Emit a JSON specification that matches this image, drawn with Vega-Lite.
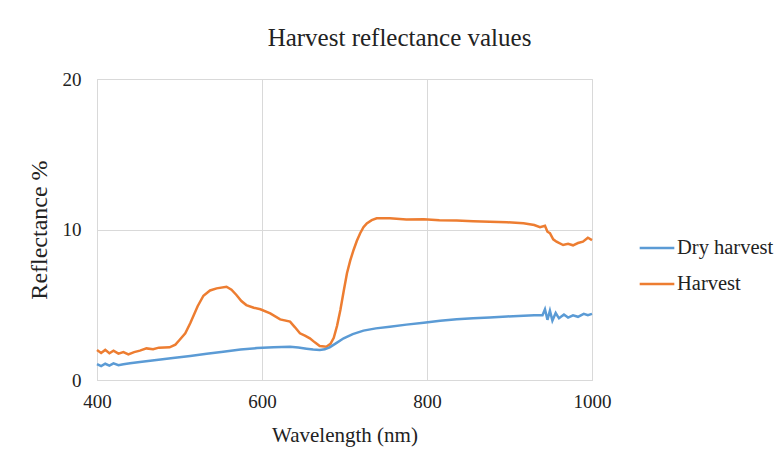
{
  "$schema": "https://vega.github.io/schema/vega-lite/v6.json",
  "width": 495,
  "height": 301,
  "autosize": {"type": "none"},
  "padding": {"left": 97, "top": 79, "right": 188, "bottom": 87},
  "background": "white",
  "title": {"text": "Harvest reflectance values", "font": "Liberation Serif", "fontSize": 25, "fontWeight": "normal", "color": "#222222", "offset": 19, "anchor": "middle", "dx": 55},
  "config": {
    "view": {"stroke": "#d9d9d9", "strokeWidth": 1},
    "axis": {"labelFont": "Liberation Serif", "titleFont": "Liberation Serif", "labelFontSize": 19, "titleFontSize": 21, "titleFontWeight": "normal", "labelColor": "#222222", "titleColor": "#222222", "gridColor": "#d9d9d9", "domainColor": "#d9d9d9", "ticks": false}
  },
  "data": {"values": [
    {"w": 400, "r": 1.99, "s": "Harvest"},
    {"w": 405, "r": 1.8, "s": "Harvest"},
    {"w": 410, "r": 2.0, "s": "Harvest"},
    {"w": 415, "r": 1.78, "s": "Harvest"},
    {"w": 420, "r": 1.95, "s": "Harvest"},
    {"w": 426, "r": 1.75, "s": "Harvest"},
    {"w": 432, "r": 1.85, "s": "Harvest"},
    {"w": 438, "r": 1.7, "s": "Harvest"},
    {"w": 445, "r": 1.85, "s": "Harvest"},
    {"w": 452, "r": 1.95, "s": "Harvest"},
    {"w": 460, "r": 2.1, "s": "Harvest"},
    {"w": 468, "r": 2.05, "s": "Harvest"},
    {"w": 475, "r": 2.15, "s": "Harvest"},
    {"w": 488, "r": 2.17, "s": "Harvest"},
    {"w": 495, "r": 2.35, "s": "Harvest"},
    {"w": 500, "r": 2.66, "s": "Harvest"},
    {"w": 507, "r": 3.1, "s": "Harvest"},
    {"w": 513, "r": 3.77, "s": "Harvest"},
    {"w": 522, "r": 4.9, "s": "Harvest"},
    {"w": 529, "r": 5.6, "s": "Harvest"},
    {"w": 537, "r": 5.95, "s": "Harvest"},
    {"w": 545, "r": 6.09, "s": "Harvest"},
    {"w": 557, "r": 6.2, "s": "Harvest"},
    {"w": 563, "r": 6.0, "s": "Harvest"},
    {"w": 569, "r": 5.65, "s": "Harvest"},
    {"w": 575, "r": 5.25, "s": "Harvest"},
    {"w": 581, "r": 4.98, "s": "Harvest"},
    {"w": 590, "r": 4.8, "s": "Harvest"},
    {"w": 598, "r": 4.7, "s": "Harvest"},
    {"w": 610, "r": 4.43, "s": "Harvest"},
    {"w": 622, "r": 4.03, "s": "Harvest"},
    {"w": 634, "r": 3.88, "s": "Harvest"},
    {"w": 640, "r": 3.5, "s": "Harvest"},
    {"w": 646, "r": 3.1, "s": "Harvest"},
    {"w": 652, "r": 2.95, "s": "Harvest"},
    {"w": 658, "r": 2.77, "s": "Harvest"},
    {"w": 664, "r": 2.5, "s": "Harvest"},
    {"w": 670, "r": 2.26, "s": "Harvest"},
    {"w": 678, "r": 2.21, "s": "Harvest"},
    {"w": 683, "r": 2.4, "s": "Harvest"},
    {"w": 687, "r": 2.8, "s": "Harvest"},
    {"w": 691, "r": 3.6, "s": "Harvest"},
    {"w": 695, "r": 4.65, "s": "Harvest"},
    {"w": 699, "r": 5.9, "s": "Harvest"},
    {"w": 703, "r": 7.09, "s": "Harvest"},
    {"w": 707, "r": 7.95, "s": "Harvest"},
    {"w": 711, "r": 8.64, "s": "Harvest"},
    {"w": 715, "r": 9.25, "s": "Harvest"},
    {"w": 719, "r": 9.75, "s": "Harvest"},
    {"w": 723, "r": 10.15, "s": "Harvest"},
    {"w": 727, "r": 10.41, "s": "Harvest"},
    {"w": 733, "r": 10.62, "s": "Harvest"},
    {"w": 739, "r": 10.74, "s": "Harvest"},
    {"w": 755, "r": 10.74, "s": "Harvest"},
    {"w": 775, "r": 10.66, "s": "Harvest"},
    {"w": 796, "r": 10.68, "s": "Harvest"},
    {"w": 815, "r": 10.62, "s": "Harvest"},
    {"w": 836, "r": 10.59, "s": "Harvest"},
    {"w": 856, "r": 10.55, "s": "Harvest"},
    {"w": 876, "r": 10.52, "s": "Harvest"},
    {"w": 897, "r": 10.48, "s": "Harvest"},
    {"w": 917, "r": 10.41, "s": "Harvest"},
    {"w": 930, "r": 10.3, "s": "Harvest"},
    {"w": 937, "r": 10.15, "s": "Harvest"},
    {"w": 943, "r": 10.25, "s": "Harvest"},
    {"w": 946, "r": 9.85, "s": "Harvest"},
    {"w": 949, "r": 9.75, "s": "Harvest"},
    {"w": 953, "r": 9.35, "s": "Harvest"},
    {"w": 957, "r": 9.19, "s": "Harvest"},
    {"w": 965, "r": 8.97, "s": "Harvest"},
    {"w": 971, "r": 9.05, "s": "Harvest"},
    {"w": 977, "r": 8.95, "s": "Harvest"},
    {"w": 983, "r": 9.1, "s": "Harvest"},
    {"w": 989, "r": 9.19, "s": "Harvest"},
    {"w": 995, "r": 9.45, "s": "Harvest"},
    {"w": 1000, "r": 9.3, "s": "Harvest"},
    {"w": 400, "r": 1.06, "s": "Dry harvest"},
    {"w": 405, "r": 0.92, "s": "Dry harvest"},
    {"w": 410, "r": 1.08, "s": "Dry harvest"},
    {"w": 415, "r": 0.95, "s": "Dry harvest"},
    {"w": 420, "r": 1.1, "s": "Dry harvest"},
    {"w": 426, "r": 0.98, "s": "Dry harvest"},
    {"w": 432, "r": 1.05, "s": "Dry harvest"},
    {"w": 440, "r": 1.12, "s": "Dry harvest"},
    {"w": 452, "r": 1.2, "s": "Dry harvest"},
    {"w": 472, "r": 1.33, "s": "Dry harvest"},
    {"w": 492, "r": 1.46, "s": "Dry harvest"},
    {"w": 513, "r": 1.6, "s": "Dry harvest"},
    {"w": 533, "r": 1.74, "s": "Dry harvest"},
    {"w": 553, "r": 1.88, "s": "Dry harvest"},
    {"w": 574, "r": 2.02, "s": "Dry harvest"},
    {"w": 594, "r": 2.12, "s": "Dry harvest"},
    {"w": 614, "r": 2.18, "s": "Dry harvest"},
    {"w": 634, "r": 2.21, "s": "Dry harvest"},
    {"w": 644, "r": 2.16, "s": "Dry harvest"},
    {"w": 654, "r": 2.08, "s": "Dry harvest"},
    {"w": 662, "r": 2.02, "s": "Dry harvest"},
    {"w": 670, "r": 1.99, "s": "Dry harvest"},
    {"w": 676, "r": 2.04, "s": "Dry harvest"},
    {"w": 682, "r": 2.17, "s": "Dry harvest"},
    {"w": 690, "r": 2.45, "s": "Dry harvest"},
    {"w": 699, "r": 2.77, "s": "Dry harvest"},
    {"w": 710, "r": 3.05, "s": "Dry harvest"},
    {"w": 723, "r": 3.28, "s": "Dry harvest"},
    {"w": 738, "r": 3.43, "s": "Dry harvest"},
    {"w": 755, "r": 3.54, "s": "Dry harvest"},
    {"w": 775, "r": 3.68, "s": "Dry harvest"},
    {"w": 796, "r": 3.81, "s": "Dry harvest"},
    {"w": 816, "r": 3.93, "s": "Dry harvest"},
    {"w": 836, "r": 4.03, "s": "Dry harvest"},
    {"w": 856, "r": 4.1, "s": "Dry harvest"},
    {"w": 876, "r": 4.16, "s": "Dry harvest"},
    {"w": 897, "r": 4.22, "s": "Dry harvest"},
    {"w": 917, "r": 4.27, "s": "Dry harvest"},
    {"w": 930, "r": 4.3, "s": "Dry harvest"},
    {"w": 940, "r": 4.3, "s": "Dry harvest"},
    {"w": 943, "r": 4.7, "s": "Dry harvest"},
    {"w": 946, "r": 4.0, "s": "Dry harvest"},
    {"w": 949, "r": 4.6, "s": "Dry harvest"},
    {"w": 952, "r": 3.95, "s": "Dry harvest"},
    {"w": 956, "r": 4.45, "s": "Dry harvest"},
    {"w": 960, "r": 4.1, "s": "Dry harvest"},
    {"w": 966, "r": 4.35, "s": "Dry harvest"},
    {"w": 971, "r": 4.15, "s": "Dry harvest"},
    {"w": 977, "r": 4.3, "s": "Dry harvest"},
    {"w": 983, "r": 4.2, "s": "Dry harvest"},
    {"w": 990, "r": 4.4, "s": "Dry harvest"},
    {"w": 995, "r": 4.3, "s": "Dry harvest"},
    {"w": 1000, "r": 4.39, "s": "Dry harvest"}
  ]},
  "mark": {"type": "line", "strokeWidth": 2.5},
  "encoding": {
    "x": {"field": "w", "type": "quantitative", "title": "Wavelength (nm)", "scale": {"domain": [400, 1000], "nice": false}, "axis": {"values": [400, 600, 800, 1000], "format": "d", "labelFont": "Liberation Serif", "labelFontSize": 19, "labelPadding": 12, "titlePadding": 13, "titleFontSize": 21, "labelFlush": false}},
    "y": {"field": "r", "type": "quantitative", "title": "Reflectance %", "scale": {"domain": [0, 20], "nice": false}, "axis": {"values": [0, 10, 20], "format": "d", "labelFont": "Liberation Serif", "labelFontSize": 19, "labelPadding": 16, "titlePadding": 11, "titleFontSize": 24}},
    "color": {"field": "s", "type": "nominal", "scale": {"domain": ["Dry harvest", "Harvest"], "range": ["#5b9bd5", "#ed7d31"]},
      "legend": {"title": null, "orient": "none", "legendX": 541, "legendY": 150, "symbolType": "stroke", "symbolSize": 1200, "symbolStrokeWidth": 2.5, "labelFont": "Liberation Serif", "labelFontSize": 20.5, "labelColor": "#222222", "rowPadding": 6, "labelOffset": 1}},
    "order": {"field": "w", "type": "quantitative"}
  }
}
